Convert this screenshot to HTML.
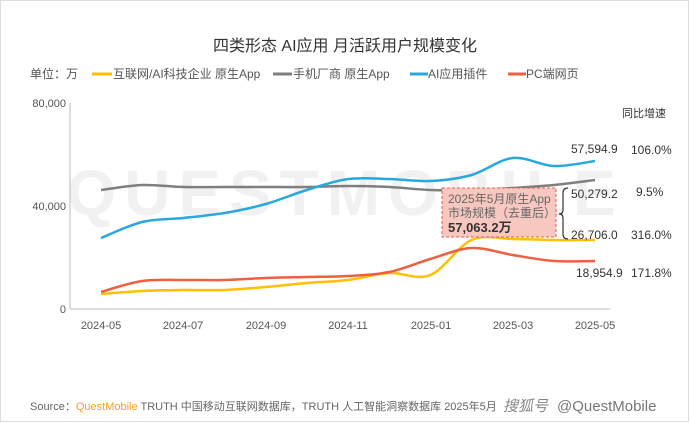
<!DOCTYPE html>
<html><head><meta charset="utf-8"><style>
body{margin:0;background:#fff}
svg{display:block;font-family:"Liberation Sans","Noto Sans CJK SC",sans-serif}
</style></head><body>
<svg id="s" width="690" height="423" viewBox="0 0 690 423">
<rect x="0.5" y="0.5" width="688" height="421" fill="#fff" stroke="#ddd"/>
<text x="345" y="51" text-anchor="middle" font-size="16" fill="#333">四类形态 AI应用 月活跃用户规模变化</text>
<g font-size="12" fill="#555">
<text x="30" y="78">单位：万</text>
<line x1="92" y1="74" x2="112" y2="74" stroke="#FFC000" stroke-width="3"/><text x="113" y="78">互联网/AI科技企业 原生App</text>
<line x1="273" y1="74" x2="292" y2="74" stroke="#7f7f7f" stroke-width="3"/><text x="293" y="78">手机厂商 原生App</text>
<line x1="410" y1="74" x2="428" y2="74" stroke="#29a8e0" stroke-width="3"/><text x="428" y="78">AI应用插件</text>
<line x1="508" y1="74" x2="526" y2="74" stroke="#ee6040" stroke-width="3"/><text x="526" y="78">PC端网页</text>
</g>
<text x="345" y="215" text-anchor="middle" font-size="64" font-weight="bold" fill="#f1f1f1" letter-spacing="8">QUESTMOBILE</text>
<line x1="70" y1="103" x2="70" y2="309" stroke="#bbb"/>
<line x1="70" y1="309" x2="610" y2="309" stroke="#bbb"/>
<g font-size="11" fill="#555" text-anchor="end">
<text x="66" y="107">80,000</text><text x="66" y="210">40,000</text><text x="66" y="313">0</text>
</g>
<g font-size="11" fill="#555" text-anchor="middle">
<text x="101" y="329">2024-05</text><text x="183" y="329">2024-07</text><text x="266" y="329">2024-09</text><text x="348" y="329">2024-11</text><text x="431" y="329">2025-01</text><text x="513" y="329">2025-03</text><text x="595" y="329">2025-05</text>
</g>
<g id="lines" fill="none" stroke-width="2.5"></g>
<rect x="442" y="188" width="114" height="49" fill="#f8c8c0" stroke="#e8604a" stroke-dasharray="3,2"/>
<g font-size="12" fill="#666"><text x="448" y="203">2025年5月原生App</text><text x="448" y="217">市场规模（去重后）</text></g>
<text x="448" y="232" font-size="13" font-weight="bold" fill="#333">57,063.2万</text>
<path d="M568 188 q-5 0 -5 5 v17 q0 4 -4 4 q4 0 4 4 v16 q0 5 5 5" fill="none" stroke="#333" stroke-width="1.2"/>
<g font-size="12" fill="#333">
<text x="571" y="153">57,594.9</text><text x="631" y="154">106.0%</text>
<text x="571" y="198">50,279.2</text><text x="636" y="196">9.5%</text>
<text x="571" y="239">26,706.0</text><text x="631" y="239">316.0%</text>
<text x="576" y="277">18,954.9</text><text x="631" y="277">171.8%</text>
<text x="622" y="117" font-size="11">同比增速</text>
</g>
<text x="30" y="410" font-size="11" fill="#666">Source：<tspan fill="#f5a020">QuestMobile</tspan> TRUTH 中国移动互联网数据库，TRUTH 人工智能洞察数据库 2025年5月</text>
<rect x="500" y="396" width="186" height="20" fill="#fff" opacity="0.6"/>
<text x="503" y="411" font-size="15" fill="#888" font-style="italic">搜狐号</text>
<text x="557" y="411" font-size="15" fill="#777">@QuestMobile</text>
</svg>
<script>
var data={
'#FFC000':[294,291,290,290,287,283,280,273,275,240,239,240,240],
'#7f7f7f':[190,185,187,187,187,187,186,187,190,190,188,185,180],
'#29a8e0':[238,222,218,213,204,190,179,179,181,175,158,166,161],
'#ee6040':[292,281,280,280,278,277,276,272,259,248,255,261,261]};
var g=document.getElementById('lines'),ns='http://www.w3.org/2000/svg';
for(var c in data){var y=data[c],p=[];for(var i=0;i<13;i++)p.push([101+i*41.17,y[i]]);
var d='M'+p[0][0]+' '+p[0][1];
for(var i=0;i<12;i++){var a=p[i-1]||p[i],b=p[i],e=p[i+1],f=p[i+2]||e;
d+=' C'+(b[0]+(e[0]-a[0])/6)+' '+(b[1]+(e[1]-a[1])/6)+' '+(e[0]-(f[0]-b[0])/6)+' '+(e[1]-(f[1]-b[1])/6)+' '+e[0]+' '+e[1];}
var el=document.createElementNS(ns,'path');el.setAttribute('d',d);el.setAttribute('stroke',c);g.appendChild(el);}
</script>
</body></html>
